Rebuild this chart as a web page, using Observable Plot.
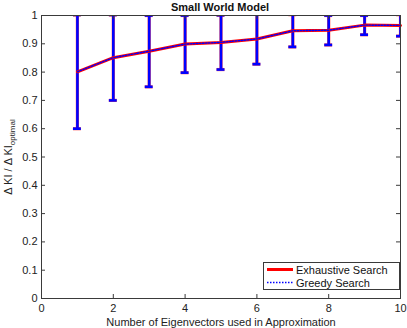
<!DOCTYPE html>
<html>
<head>
<meta charset="utf-8">
<script src="https://cdn.jsdelivr.net/npm/d3@7"></script>
<script src="https://cdn.jsdelivr.net/npm/@observablehq/plot@0.6"></script>
<style>
body{margin:0;background:#fff;}
#chart{width:407px;height:328px;}
svg{font-family:"Liberation Sans",Arial,Helvetica,sans-serif;}
</style>
</head>
<body>
<div id="chart"></div>
<script>
const eigen = [1,2,3,4,5,6,7,8,9,10];
const exhaustive = [0.801,0.851,0.874,0.899,0.905,0.917,0.946,0.948,0.966,0.965];
const greedy     = [0.801,0.851,0.874,0.899,0.905,0.917,0.946,0.948,0.966,0.965];
const errLow     = [0.600,0.700,0.748,0.798,0.809,0.828,0.889,0.896,0.932,0.927];
const xTicks = [0,2,4,6,8,10];
const yTicks = [0,0.1,0.2,0.3,0.4,0.5,0.6,0.7,0.8,0.9,1];
const seriesNames = ["Exhaustive Search","Greedy Search"];
const titleText = "Small World Model";
const xLabel = "Number of Eigenvectors used in Approximation";

const rows = eigen.map((x,i)=>({x, ex: exhaustive[i], gr: greedy[i], lo: errLow[i], hi: greedy[i] + (greedy[i]-errLow[i])}));
const W=407,H=328,mL=41,mR=7,mT=15,mB=30;
const capHalf = 0.11;
const tickLenY = 4/(H-mT-mB);
const tickLenX = 4/(W-mL-mR)*10;
const axisCol = "#3a3a3a";

const plot = Plot.plot({
  width: W, height: H,
  marginLeft: mL, marginRight: mR, marginTop: mT, marginBottom: mB,
  style: {fontFamily: '"Liberation Sans",Arial,Helvetica,sans-serif', fontSize: "11px", background: "#fff"},
  x: {domain: [0,10]},
  y: {domain: [0,1]},
  marks: [
    Plot.ruleX(rows, {x: "x", y1: "lo", y2: "hi", stroke: "#ff5050", strokeWidth: 3.2, clip: true}),
    Plot.ruleY(rows, {y: "lo", x1: d=>d.x-capHalf, x2: d=>d.x+capHalf, stroke: "#ff5050", strokeWidth: 3.2, clip: true}),
    Plot.ruleY(rows, {y: "hi", x1: d=>d.x-capHalf, x2: d=>d.x+capHalf, stroke: "#ff5050", strokeWidth: 3.2, clip: true}),
    Plot.ruleX(rows, {x: "x", y1: "lo", y2: "hi", stroke: "#0000ff", strokeWidth: 2.6, clip: true}),
    Plot.ruleY(rows, {y: "lo", x1: d=>d.x-capHalf, x2: d=>d.x+capHalf, stroke: "#0000ff", strokeWidth: 2.6, clip: true}),
    Plot.ruleY(rows, {y: "hi", x1: d=>d.x-capHalf, x2: d=>d.x+capHalf, stroke: "#0000ff", strokeWidth: 2.6, clip: true}),
    Plot.line(rows, {x: "x", y: "ex", stroke: "#ff0000", strokeWidth: 3}),
    Plot.line(rows, {x: "x", y: "gr", stroke: "#0000ff", strokeWidth: 1.4, strokeDasharray: "1.5,1.5"}),
    Plot.frame({stroke: axisCol, strokeWidth: 1}),
    Plot.ruleX(xTicks, {x: d=>d, y1: 0, y2: tickLenY, stroke: axisCol}),
    Plot.ruleX(xTicks, {x: d=>d, y1: 1-tickLenY, y2: 1, stroke: axisCol}),
    Plot.ruleY(yTicks, {y: d=>d, x1: 0, x2: tickLenX, stroke: axisCol}),
    Plot.ruleY(yTicks, {y: d=>d, x1: 10-tickLenX, x2: 10, stroke: axisCol}),
    Plot.axisX(xTicks, {tickSize: 0, tickPadding: 6, tickFormat: d=>String(d), label: xLabel, labelAnchor: "center", labelArrow: "none", labelOffset: 27, fill: "#222"}),
    Plot.axisY(yTicks, {tickSize: 0, tickPadding: 4, tickFormat: d=>String(d), label: null, fill: "#222"})
  ]
});
document.getElementById("chart").appendChild(plot);

const svg = d3.select(plot);
svg.append("text").attr("x", 220).attr("y", 11).attr("text-anchor","middle")
  .attr("font-weight","bold").attr("font-size","11px").attr("fill","#111").text(titleText);
const yl = svg.append("text").attr("transform","translate(12,157) rotate(-90)")
  .attr("text-anchor","middle").attr("font-size","11px").attr("fill","#222");
yl.append("tspan").text("\u0394 KI / \u0394 KI");
yl.append("tspan").attr("font-size","8px").attr("dy","3").text("optimal");

const lg = svg.append("g").attr("text-anchor","start");
lg.append("rect").attr("x",263.5).attr("y",262.5).attr("width",136).attr("height",27)
  .attr("fill","#fff").attr("stroke",axisCol);
lg.append("line").attr("x1",267).attr("x2",293).attr("y1",269.5).attr("y2",269.5).attr("stroke","#ff0000").attr("stroke-width",3);
lg.append("line").attr("x1",267).attr("x2",293).attr("y1",282.5).attr("y2",282.5).attr("stroke","#0000ff").attr("stroke-width",1.4).attr("stroke-dasharray","1.5,1.5");
lg.append("text").attr("x",296).attr("y",273.5).attr("text-anchor","start").attr("font-size","11px").attr("fill","#111").text(seriesNames[0]);
lg.append("text").attr("x",296).attr("y",286.5).attr("text-anchor","start").attr("font-size","11px").attr("fill","#111").text(seriesNames[1]);
</script>
</body>
</html>
